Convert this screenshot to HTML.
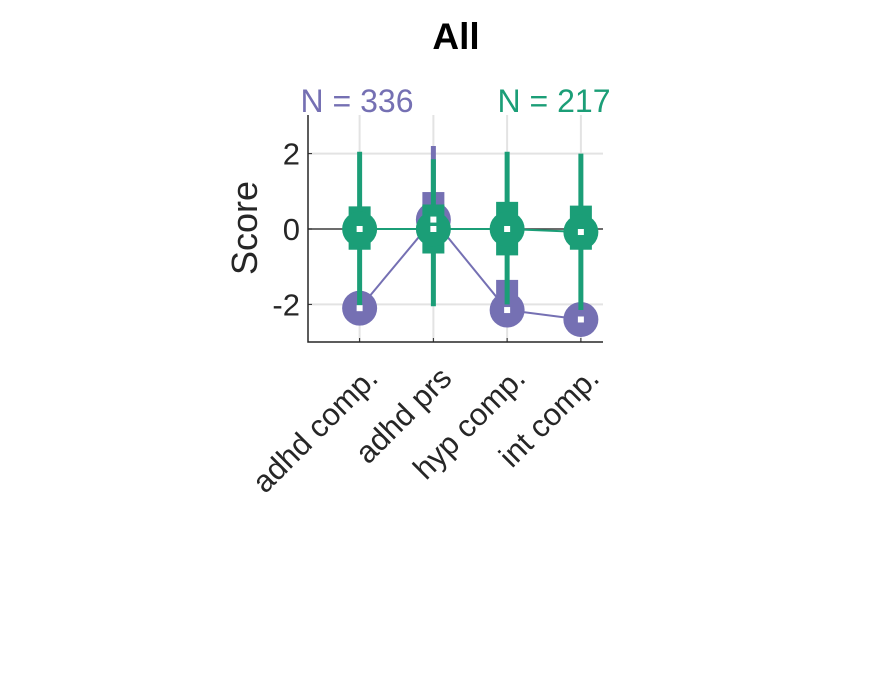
<!DOCTYPE html>
<html><head><meta charset="utf-8"><style>body{margin:0;background:#fff}svg{display:block}text{font-family:"Liberation Sans",sans-serif}</style></head>
<body>
<svg id="chart" width="882" height="688">
<rect width="882" height="688" fill="#fff"/>
<text x="456" y="49" font-size="37" font-weight="bold" text-anchor="middle" fill="#000">All</text>
<text x="357" y="112" font-size="32" text-anchor="middle" fill="#7570b3">N = 336</text>
<text x="554" y="112" font-size="32" text-anchor="middle" fill="#1b9e77">N = 217</text>
<text transform="translate(257,228) rotate(-90)" font-size="36" text-anchor="middle" fill="#262626">Score</text>
<g id="grid"></g><g id="marks"></g><g id="axes"></g>
</svg>
<script>
const categories=["adhd comp.","adhd prs","hyp comp.","int comp."];
const yTicks=[-2,0,2];
const purpleMean=[-2.1,0.25,-2.15,-2.4];
const purpleQ1=[-2.1,0.5,-1.9,-2.4];
const purpleQ3=[-2.1,0.98,-1.35,-2.4];
const purpleLo=[-2.1,0.25,-2.15,-2.4];
const purpleHi=[-2.1,2.2,-2.15,-2.4];
const greenMean=[0,0,0,-0.08];
const greenQ1=[-0.55,-0.65,-0.7,-0.55];
const greenQ3=[0.6,0.65,0.72,0.62];
const greenLo=[-2.07,-2.05,-2.0,-2.15];
const greenHi=[2.05,1.85,2.05,2.0];
const X0=308,X1=603,Y0=115,Y1=342;
const xs=i=>X0+(i+1-0.3)/4*(X1-X0);
const ys=v=>229-v*37.7;
const NS="http://www.w3.org/2000/svg";
function mk(p,t,a){const e=document.createElementNS(NS,t);for(const k in a)e.setAttribute(k,a[k]);p.appendChild(e);return e;}
const grid=document.getElementById('grid'),marks=document.getElementById('marks'),axes=document.getElementById('axes');
categories.forEach((c,i)=>{const g=mk(grid,'line',{x1:xs(i),x2:xs(i),y1:Y0,y2:Y1,stroke:'#e3e3e3','stroke-width':2});
});
yTicks.forEach(v=>{const g=mk(grid,'line',{x1:X0,x2:X1,y1:ys(v),y2:ys(v),stroke:'#e3e3e3','stroke-width':2});
});
const zl=mk(grid,'line',{x1:X0,x2:X1,y1:ys(0),y2:ys(0),stroke:'#444','stroke-width':1.5});

function series(col,mean,q1,q3,lo,hi,name){
  const pts=mean.map((m,i)=>xs(i)+','+ys(m)).join(' ');
  const pl=mk(marks,'polyline',{points:pts,fill:'none',stroke:col,'stroke-width':2});
  
  mean.forEach((m,i)=>{
    const x=xs(i);
    const w=mk(marks,'line',{x1:x,x2:x,y1:ys(hi[i]),y2:ys(lo[i]),stroke:col,'stroke-width':5});
    
    if(q3[i]!==q1[i]){const b=mk(marks,'rect',{x:x-11,y:ys(q3[i]),width:22,height:ys(q1[i])-ys(q3[i]),fill:col});
    }
    const c=mk(marks,'circle',{cx:x,cy:ys(m),r:17.5,fill:col});
    
  });
}
function centers(mean,name){mean.forEach((m,i)=>{const s=mk(marks,'rect',{x:xs(i)-3,y:ys(m)-3,width:6,height:6,fill:'#fff'});
});}
series('#7570b3',purpleMean,purpleQ1,purpleQ3,purpleLo,purpleHi,'purple');
series('#1b9e77',greenMean,greenQ1,greenQ3,greenLo,greenHi,'green');
centers(purpleMean,'purple');centers(greenMean,'green');
const ax=mk(axes,'path',{d:`M${X0},${Y0}V${Y1}H${X1}`,fill:'none',stroke:'#262626','stroke-width':1.5});

yTicks.forEach(v=>{const t=mk(axes,'line',{x1:X0,x2:X0+4,y1:ys(v),y2:ys(v),stroke:'#262626'});

const l=mk(axes,'text',{x:X0-8,y:ys(v)+11,'font-size':31,'text-anchor':'end',fill:'#262626'});l.textContent=v;
});
categories.forEach((c,i)=>{const x=xs(i);const t=mk(axes,'line',{x1:x,x2:x,y1:Y1,y2:Y1-4,stroke:'#262626'});

const l=mk(axes,'text',{transform:`translate(${x+20},${Y1+38}) rotate(-45)`,'font-size':31,'text-anchor':'end',fill:'#262626'});l.textContent=c;
});
</script>
</body></html>
